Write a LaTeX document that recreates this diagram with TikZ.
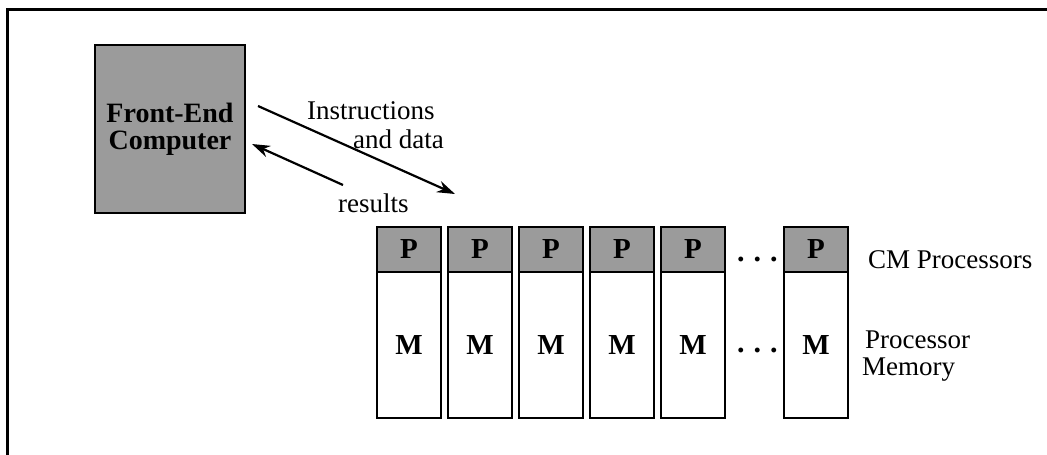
\documentclass[tikz,border=0pt]{standalone}
\usepackage{fontspec}
\setmainfont{Liberation Serif}
\usetikzlibrary{arrows.meta}
\definecolor{shade}{RGB}{155,155,155}
\begin{document}
\begin{tikzpicture}[x=1pt,y=-1pt,
  frameline/.style={line width=3pt},
  shadedbox/.style={draw,line width=2pt,fill=shade,inner sep=0pt},
  membox/.style={draw,line width=2pt,fill=white,inner sep=0pt},
  lbl/.style={font=\fontsize{27}{27}\selectfont,inner sep=0pt,anchor=base west,align=left},
  dotsl/.style={font=\fontsize{30}{30}\bfseries\selectfont,inner sep=0pt,anchor=base west},
  arr/.style={line width=2.2pt,-{Stealth[length=18pt,width=12pt]}}]
\useasboundingbox (0,0) rectangle (1047,455);
% outer frame (cut by the picture edge)
\coordinate (fbl) at (7,456);
\coordinate (ftl) at (7,9);
\coordinate (ftr) at (1048,9);
\draw[frameline] (fbl) -- (ftl) -- (ftr);
% front-end computer
\node[shadedbox,minimum width=150pt,minimum height=168pt,
      font=\fontsize{28}{27}\bfseries\selectfont,align=center] (fe) at (170,129)
      {Front-End\\Computer};
% processor columns
\foreach \i/\x in {1/409,2/480,3/551,4/622,5/693,6/816}{
  \node[shadedbox,minimum width=64pt,minimum height=45pt,
        font=\fontsize{29}{29}\bfseries\selectfont] (p\i) at (\x,249.5) {P};
  \node[membox,minimum width=64pt,minimum height=146pt,
        font=\fontsize{29}{29}\bfseries\selectfont] (m\i) at (\x,345) {M};
}
\node[dotsl] (dp) at (737,261) {.\hspace{9pt}.\hspace{9pt}.};
\node[dotsl] (dm) at (737,352) {.\hspace{9pt}.\hspace{9pt}.};
% labels
\node[lbl] (cmp) at (868,268) {CM Processors};
\node[lbl] (pm1) at (865,348) {Processor};
\node[lbl] (pm2) at (862,375) {Memory};
\node[lbl] (ins) at (307,119) {Instructions};
\node[lbl] (and) at (353,148) {and data};
\node[lbl] (res) at (338,212) {results};
% arrows
\coordinate (a1s) at (258,106);
\coordinate (a1e) at (455,194);
\coordinate (a2s) at (343,185);
\coordinate (a2e) at (252,144);
\draw[arr] (a1s) -- (a1e);
\draw[arr] (a2s) -- (a2e);
\end{tikzpicture}
\end{document}
